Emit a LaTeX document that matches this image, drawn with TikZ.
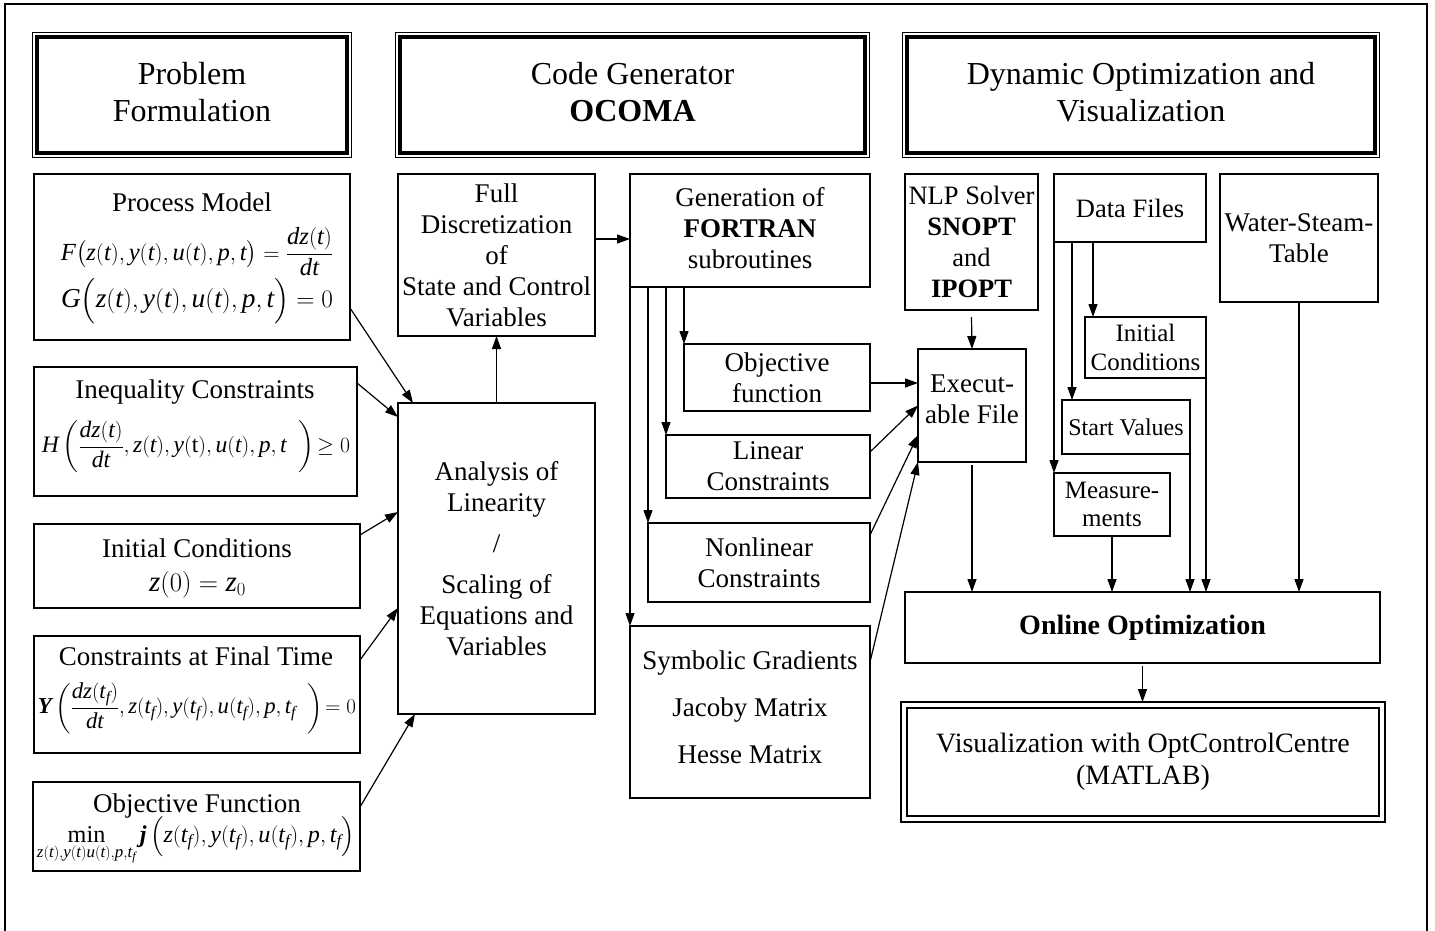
\documentclass[tikz,border=0pt]{standalone}
\usepackage{amsmath}
\usepackage{graphicx}
\usepackage{fontspec}
\setmainfont{Liberation Serif}
\DeclareMathAlphabet{\mathlit}{TU}{\rmdefault}{m}{it}
\DeclareSymbolFont{operators}{TU}{\rmdefault}{m}{n}
\usetikzlibrary{arrows.meta,calc}
\begin{document}
\begin{tikzpicture}[x=1pt,y=-1pt,
  every node/.style={inner sep=0pt, outer sep=0pt},
  box/.style={draw, line width=1.6pt, align=center, font=\fontsize{27}{31}\selectfont},
  txt/.style={align=center, font=\fontsize{27}{31}\selectfont},
  hdr/.style={draw, line width=4pt, align=center, font=\fontsize{32}{37}\selectfont},
  ttl/.style={font=\fontsize{27}{31}\selectfont, anchor=base},
  eqn/.style={font=\fontsize{27}{31}\selectfont},
  arr/.style={line width=1.2pt, -{Triangle[length=13pt,width=9pt]}}]
\useasboundingbox (0,0) rectangle (1435,930);
\draw[line width=2.2pt] (5,945) -- (5,4) -- (1427,4) -- (1427,945);

% headers
\node[hdr, minimum width=310pt, minimum height=116pt] (h1) at (192,95) {};
\node[txt, font=\fontsize{32}{37}\selectfont] (h1t) at (192,92) {Problem\\Formulation};
\node[hdr, minimum width=465pt, minimum height=116pt] (h2) at (632.5,95) {};
\node[txt, font=\fontsize{32}{37}\selectfont] (h2t) at (632.5,92) {Code Generator\\\textbf{OCOMA}};
\node[hdr, minimum width=468pt, minimum height=116pt] (h3) at (1141,95) {};
\node[txt, font=\fontsize{32}{37}\selectfont] (h3t) at (1141,92) {Dynamic Optimization and\\Visualization};
\foreach \h in {h1,h2,h3}{
  \draw[line width=1pt] ([shift={(-4.5pt,-4.5pt)}]\h.south west) rectangle ([shift={(4.5pt,4.5pt)}]\h.north east);
}

% left column
\node[box, minimum width=316pt, minimum height=166pt] (pm) at (192,257) {};
\node[ttl] (pmt) at (192,211) {Process Model};
\node[eqn] (pmf) at (197,252) {\resizebox{272pt}{!}{$\mathlit{F\bigl(z(t), y(t),u(t), p,t\bigr)} = \dfrac{\mathlit{dz(t)}}{\mathlit{dt}}$}};
\node[eqn] (pmg) at (197,301) {\resizebox{272pt}{!}{$\mathlit{G\Bigl(z(t), y(t),u(t), p,t\Bigr)} = 0$}};

\node[box, minimum width=323pt, minimum height=129pt] (ineq) at (195.5,431.5) {};
\node[ttl] (ineqt) at (195,398) {Inequality Constraints};
\node[eqn] (ineqf) at (196,447) {\resizebox{308pt}{!}{$\mathlit{H}\left(\dfrac{\mathlit{dz(t)}}{\mathlit{dt}}, \mathlit{z(t)}, \mathlit{y}(\mathrm{t}), \mathlit{u(t), p, t}\;\;\right)\!\geq 0$}};

\node[box, minimum width=326pt, minimum height=84pt] (ic) at (197,566) {};
\node[ttl] (ict) at (197,557) {Initial Conditions};
\node[eqn] (icf) at (197.5,585) {\resizebox{97pt}{!}{$\mathlit{z}(0) = \mathlit{z}_{0}$}};

\node[box, minimum width=326pt, minimum height=117pt] (cf) at (197,694.5) {};
\node[ttl] (cft) at (196,665) {Constraints at Final Time};
\node[eqn] (cff) at (197,708) {\resizebox{318pt}{!}{$\text{\bfseries\itshape Y}\left(\dfrac{\mathlit{dz(t_f)}}{\mathlit{dt}}, \mathlit{z(t_f), y(t_f), u(t_f), p, t_f}\;\;\right)\!=0$}};

\node[box, minimum width=327pt, minimum height=89pt] (of) at (196.5,826.5) {};
\node[ttl] (oft) at (197,812) {Objective Function};
\node[eqn] (off) at (196,841) {\resizebox{318pt}{!}{$\min\limits_{\mathlit{z(t),y(t)u(t),p,t_f}} \text{\bfseries\itshape j}\,\Bigl(\mathlit{z(t_f), y(t_f),u(t_f), p,t_f}\Bigr)$}};

% code generator column
\node[box, minimum width=197pt, minimum height=162pt] (fd) at (496.5,255) {Full\\Discretization\\of\\State and Control\\Variables};
\node[box, minimum width=197pt, minimum height=311pt] (an) at (496.5,558.5) {Analysis of\\Linearity\\[10pt]/\\[10pt]Scaling of\\Equations and\\Variables};
\node[box, minimum width=240pt, minimum height=113pt] (gen) at (750,230.5) {};
\node[txt] (gent) at (750,228) {Generation of\\\textbf{FORTRAN}\\subroutines};
\node[box, minimum width=186pt, minimum height=67pt] (obj) at (777,377.5) {Objective\\function};
\node[box, minimum width=204pt, minimum height=63pt] (lin) at (768,466.5) {Linear\\Constraints};
\node[box, minimum width=222pt, minimum height=79pt] (nl) at (759,562.5) {Nonlinear\\Constraints};
\node[box, minimum width=240pt, minimum height=172pt] (sym) at (750,712) {};
\node[txt, font=\fontsize{27}{47}\selectfont] (symt) at (750,707) {Symbolic Gradients\\Jacoby Matrix\\Hesse Matrix};

% right column
\node[box, minimum width=133pt, minimum height=136pt, font=\fontsize{26.5}{31}\selectfont] (nlp) at (971.5,242) {NLP Solver\\\textbf{SNOPT}\\and\\\textbf{IPOPT}};
\node[box, minimum width=108pt, minimum height=113pt] (exe) at (972,405.5) {};
\node[txt] (exet) at (972,399) {Execut-\\able File};
\node[box, minimum width=152pt, minimum height=68pt, font=\fontsize{26.5}{31}\selectfont] (df) at (1130,208) {Data Files};
\node[box, minimum width=158pt, minimum height=128pt] (ws) at (1299,238) {Water-Steam-\\Table};
\node[box, minimum width=121pt, minimum height=61pt, font=\fontsize{25}{29}\selectfont] (icr) at (1145.5,347.5) {Initial\\Conditions};
\node[box, minimum width=128pt, minimum height=54pt, font=\fontsize{24}{28}\selectfont] (sv) at (1126,427) {Start Values};
\node[box, minimum width=116pt, minimum height=63pt, font=\fontsize{25}{28}\selectfont] (ms) at (1112,504.5) {Measure-\\ments};
\node[box, minimum width=475pt, minimum height=71pt, font=\fontsize{28}{32}\selectfont\bfseries] (oo) at (1142.5,627.5) {Online Optimization};
\node[box, line width=2.5pt, minimum width=472pt, minimum height=108pt, font=\fontsize{28}{32}\selectfont] (vis) at (1143,762) {Visualization with OptControlCentre\\(MATLAB)};
\draw[line width=1.2pt] ([shift={(-6pt,-6pt)}]vis.south west) rectangle ([shift={(6pt,6pt)}]vis.north east);

% connectors: problem formulation -> analysis
\draw[arr] ([yshift=-51pt]pm.east) -- ([xshift=15pt]an.north west);
\draw[arr] ([yshift=48.5pt]ineq.east) -- ([yshift=-14pt]an.north west);
\draw[arr] ([yshift=31pt]ic.east) -- ([yshift=46.5pt]an.west);
\draw[arr] ([yshift=34.5pt]cf.east) -- ([yshift=-49.5pt]an.west);
\draw[arr] ([yshift=19.5pt]of.east) -- ([xshift=17pt]an.south west);

\draw[arr] (an.north) -- (fd.south);
\coordinate (fdo) at ([yshift=16pt]fd.east);
\draw[arr] (fdo) -- (fdo -| gen.west);

\draw[arr] (gen.south west) -- (sym.north west);
\draw[arr] ([xshift=18pt]gen.south west) -- (nl.north west);
\draw[arr] ([xshift=36pt]gen.south west) -- (lin.north west);
\draw[arr] ([xshift=54pt]gen.south west) -- (obj.north west);

\coordinate (obo) at ([yshift=-5.5pt]obj.east);
\draw[arr] (obo) -- (obo -| exe.west);
\draw[arr] ([yshift=14.5pt]lin.east) -- (exe.west);
\draw[arr] ([yshift=27.5pt]nl.east) -- ([yshift=-29.5pt]exe.west);
\draw[arr] ([yshift=50pt]sym.east) -- (exe.south west);
\draw[arr] ([yshift=-7pt]nlp.south) -- (exe.north);
\draw[arr] ([yshift=-3pt]exe.south) -- (exe.south |- oo.north);

% data files
\draw[arr] (df.south west) -- (ms.north west);
\coordinate (d2) at ([xshift=18pt]df.south west);
\draw[arr] (d2) -- (d2 |- sv.north);
\coordinate (d3) at ([xshift=39pt]df.south west);
\draw[arr] (d3) -- (d3 |- icr.north);
\draw[arr] (ms.south) -- (ms.south |- oo.north);
\draw[arr] (sv.south east) -- (sv.south east |- oo.north);
\draw[arr] (icr.south east) -- (icr.south east |- oo.north);
\draw[arr] (ws.south) -- (ws.south |- oo.north);
\coordinate (vt) at ([yshift=6pt]vis.north);
\draw[arr] ([yshift=-3pt]oo.south) -- (oo.south |- vt);
\end{tikzpicture}
\end{document}
